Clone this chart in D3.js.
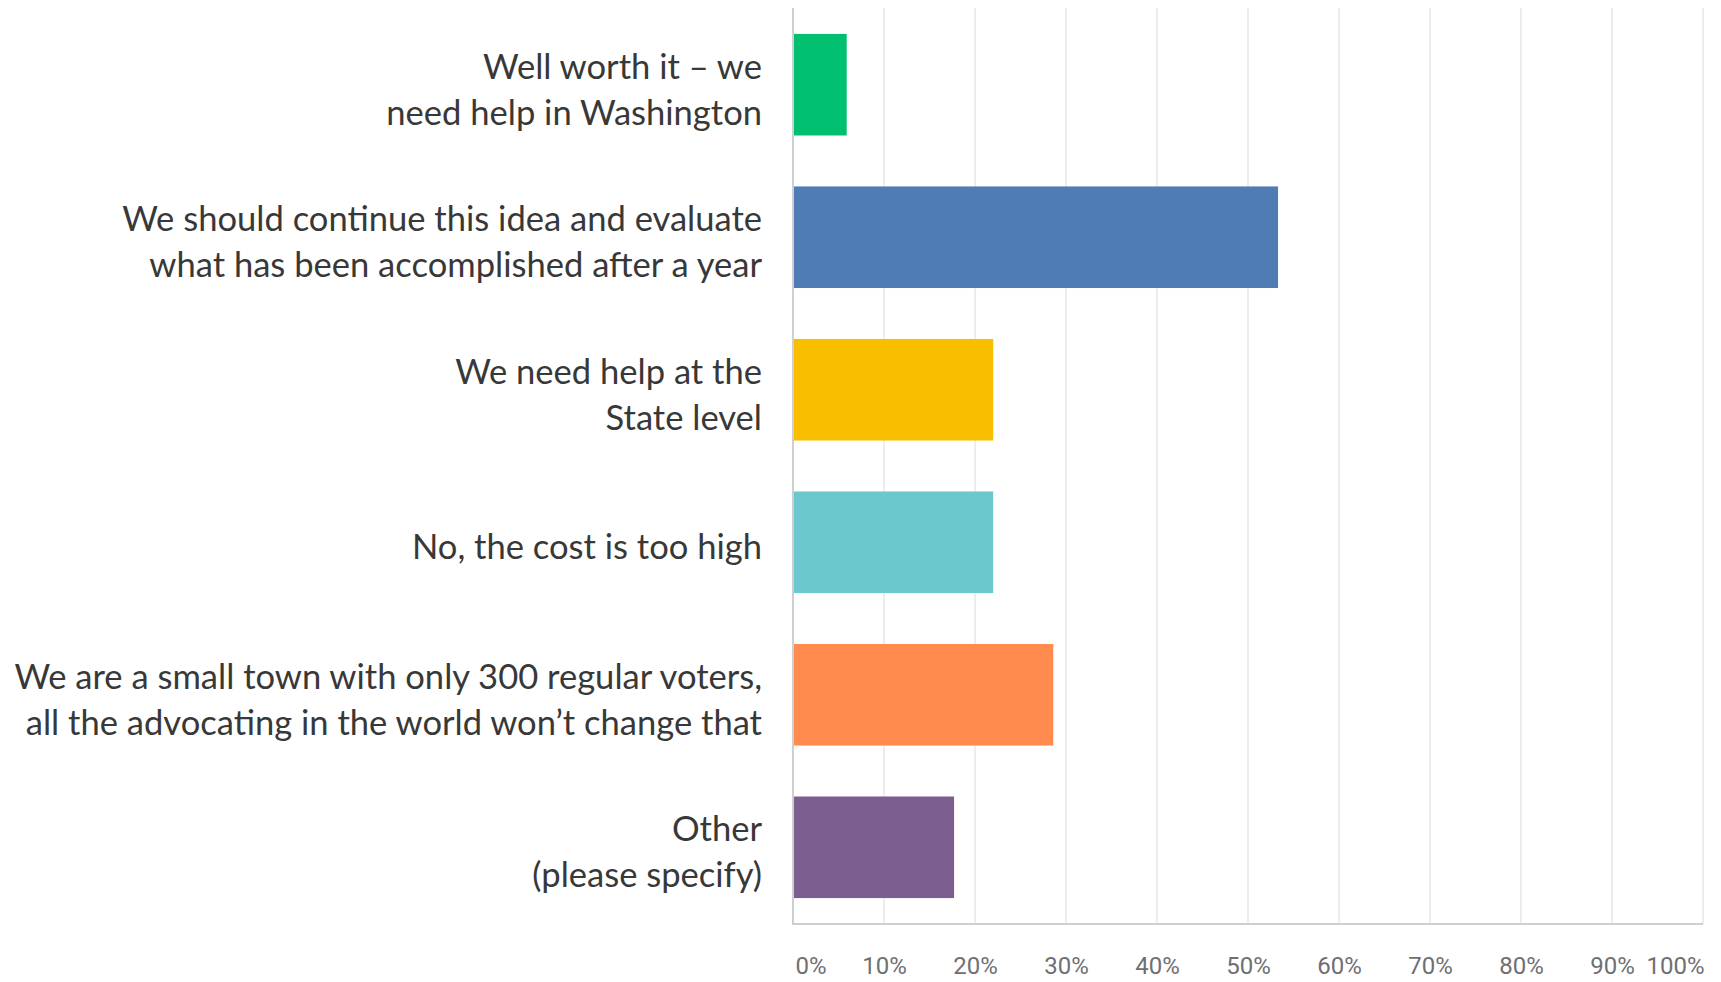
<!DOCTYPE html>
<html>
<head>
<meta charset="utf-8">
<script src="https://cdn.jsdelivr.net/npm/d3@7"></script>
<style>
  html, body { margin: 0; padding: 0; background: #fff; }
  svg { display: block; }
</style>
</head>
<body>
<svg id="chart" width="1721" height="982"></svg>
<script>
// ---- data ----
const categories = [
  ["Well worth it \u2013 we", "need help in Washington"],
  ["We should continue this idea and evaluate", "what has been accomplished after a year"],
  ["We need help at the", "State level"],
  ["No, the cost is too high"],
  ["We are a small town with only 300 regular voters,", "all the advocating in the world won\u2019t change that"],
  ["Other", "(please specify)"]
];
const values = [5.9, 53.3, 22.0, 22.0, 28.6, 17.7];
const colors = ["#00BF6F", "#507CB6", "#F9BE00", "#6BC8CD", "#FF8B4F", "#7D5E90"];
const tickValues = [0, 10, 20, 30, 40, 50, 60, 70, 80, 90, 100];
const tickLabels = ["0%", "10%", "20%", "30%", "40%", "50%", "60%", "70%", "80%", "90%", "100%"];

// ---- layout ----
const svg = d3.select("#chart");
const plotL = 793, plotR = 1703, plotT = 8, plotB = 924;

const x = d3.scaleLinear().domain([0, 100]).range([plotL, plotR]);
const y = d3.scaleBand().domain(d3.range(categories.length)).range([plotT, plotB])
  .paddingInner(0.334).paddingOuter(0.17);

// gridlines
svg.append("g").selectAll("line").data(tickValues.filter(d => d > 0)).join("line")
  .attr("x1", d => x(d)).attr("x2", d => x(d))
  .attr("y1", plotT).attr("y2", plotB)
  .attr("stroke", "#e7e7e9").attr("stroke-width", 1.5);

// bars
svg.append("g").selectAll("rect").data(values).join("rect")
  .attr("x", x(0))
  .attr("y", (d, i) => y(i))
  .attr("width", d => x(d) - x(0))
  .attr("height", y.bandwidth())
  .attr("fill", (d, i) => colors[i]);

// axes lines
svg.append("line").attr("x1", x(0)).attr("x2", x(0)).attr("y1", plotT).attr("y2", plotB + 1)
  .attr("stroke", "#cfcfd2").attr("stroke-width", 2);
svg.append("line").attr("x1", x(0)).attr("x2", x(100)).attr("y1", plotB).attr("y2", plotB)
  .attr("stroke", "#cfcfd2").attr("stroke-width", 2);

// x tick labels
const xAxis = d3.axisBottom(x).tickValues(tickValues)
  .tickFormat((d, i) => tickLabels[i]).tickSize(0).tickPadding(0);
const gx = svg.append("g").attr("transform", `translate(0, ${plotB + 50})`).call(xAxis);
gx.select(".domain").remove();
gx.selectAll("text")
  .attr("y", 0).attr("dy", 0)
  .style("font-family", "Roboto, 'Noto Sans', sans-serif")
  .style("font-size", "24px")
  .attr("fill", "#6f6f73")
  .attr("text-anchor", d => d === 0 ? "start" : (d === 100 ? "end" : "middle"))
  .attr("dx", d => d === 0 ? 2 : (d === 100 ? 1 : 0));

// category labels
const labelFont = "Lato, 'Open Sans', sans-serif";
const probe = svg.append("text").style("font-family", labelFont).style("font-size", "100px")
  .text(categories[4][0]);
const w100 = probe.node().getComputedTextLength();
probe.remove();
const fs = 100 * 748 / w100;
const lineH = 46;

const lg = svg.append("g");
categories.forEach((lines, i) => {
  const cy = y(i) + y.bandwidth() / 2 + 5;
  const t = lg.append("text")
    .attr("x", 762)
    .attr("text-anchor", "end")
    .style("font-family", labelFont)
    .style("font-size", fs + "px")
    .attr("fill", "#383838");
  lines.forEach((ln, j) => {
    const off = (j - (lines.length - 1) / 2) * lineH;
    t.append("tspan").attr("x", 762).attr("y", cy + off).attr("dy", "0.35em").text(ln);
  });
});
</script>
</body>
</html>
